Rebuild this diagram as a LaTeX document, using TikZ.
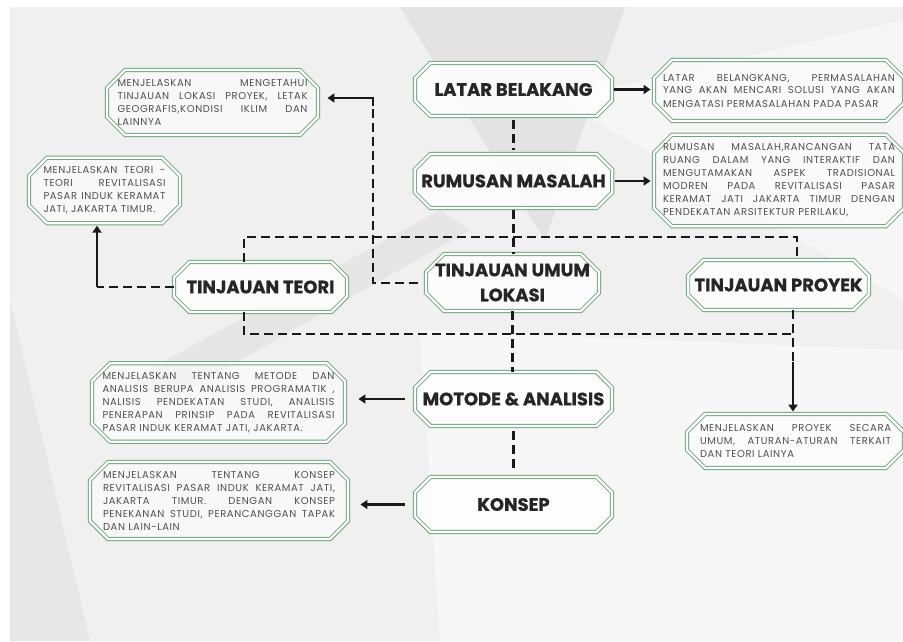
\documentclass[tikz,border=0pt]{standalone}
\usepackage{fontspec}
\setmainfont{Poppins}
\newfontfamily\infofam{Poppins}[LetterSpace=6]
\newfontfamily\titlefam{Poppins}[BoldFeatures={FakeBold=0.8}]
\usetikzlibrary{shapes.misc,arrows.meta,calc}
\definecolor{grn}{HTML}{6FA47C}
\definecolor{ttl}{HTML}{262626}
\definecolor{txt}{HTML}{505050}
\definecolor{bgc}{HTML}{F0F0F0}
\newcommand\infofont{\infofam\fontsize{10}{13}\selectfont\hyphenpenalty=10000 \exhyphenpenalty=10000 \tolerance=10000 \emergencystretch=20pt\relax}
\begin{document}
\begin{tikzpicture}[x=1pt,y=-1pt,
  octo/.style={chamfered rectangle, chamfered rectangle xsep=9pt, chamfered rectangle ysep=9pt,
    draw=grn, line width=0.9pt, double=white, double distance=2.4pt,
    fill=white, fill opacity=0.85, text opacity=1, inner sep=0pt},
  mainbox/.style={octo, font=\titlefam\fontsize{18}{25}\selectfont\bfseries, text=ttl, align=center},
  infobox/.style={octo, fill opacity=0.55, font=\infofont, text=txt, align=justify},
  conn/.style={line width=2.6pt, draw=black!90},
  dashline/.style={conn, dash pattern=on 9pt off 5pt},
  arr/.style={conn, -{Triangle[length=7pt,width=9pt]}},
]
\useasboundingbox (0,0) rectangle (903,641);
% background
\fill[white] (0,0) rectangle (903,641);
\fill[bgc] (10,7) rectangle (903,641);
\fill[gray!45, opacity=.3] (400,7) -- (625,7) -- (545,240) -- cycle;
\fill[white, opacity=.45] (560,100) -- (903,20) -- (903,300) -- cycle;
\fill[gray!35, opacity=.3] (130,380) -- (440,210) -- (470,230) -- (170,400) -- cycle;
\fill[gray!30, opacity=.35] (10,300) -- (90,641) -- (10,641) -- cycle;
\fill[white, opacity=.5] (420,330) -- (903,350) -- (903,641) -- (440,641) -- cycle;

% main boxes
\node[mainbox, minimum width=197, minimum height=53] (lb) at (513.5,89.5) {LATAR BELAKANG};
\node[mainbox, minimum width=197, minimum height=54] (rm) at (513.5,181) {RUMUSAN MASALAH};
\node[mainbox, minimum width=173, minimum height=50] (tt) at (260.5,287) {TINJAUAN TEORI};
\node[mainbox, minimum width=173, minimum height=57] (tu) at (512.5,282.5) {TINJAUAN UMUM\\LOKASI};
\node[mainbox, minimum width=179, minimum height=50] (tp) at (778.5,285) {TINJAUAN PROYEK};
\node[mainbox, minimum width=197, minimum height=54] (ma) at (513.5,399) {MOTODE \& ANALISIS};
\node[mainbox, minimum width=197, minimum height=55] (ko) at (513.5,504.5) {KONSEP};

% info boxes
\node[infobox, text width=190, minimum width=211, minimum height=65] (tlok) at (212.5,102.5)
 {MENJELASKAN MENGETAHUI\linebreak TINJAUAN LOKASI PROYEK, LETAK\linebreak GEOGRAFIS,KONDISI IKLIM DAN\linebreak LAINNYA};
\node[infobox, text width=232, minimum width=250, minimum height=61] (tlb) at (779,90.5)
 {LATAR BELANGKANG, PERMASALAHAN\linebreak YANG AKAN MENCARI SOLUSI YANG AKAN\linebreak MENGATASI PERMASALAHAN PADA PASAR};
\node[infobox, text width=232, minimum width=250, minimum height=91] (trm) at (779,180.5)
 {RUMUSAN MASALAH,RANCANGAN TATA\linebreak RUANG DALAM YANG INTERAKTIF DAN\linebreak MENGUTAMAKAN ASPEK TRADISIONAL\linebreak MODREN PADA REVITALISASI PASAR\linebreak KERAMAT JATI JAKARTA TIMUR DENGAN\linebreak PENDEKATAN ARSITEKTUR PERILAKU,};
\node[infobox, text width=122, minimum width=151, minimum height=63] (tteori) at (104.5,190.5)
 {MENJELASKAN TEORI -\linebreak TEORI REVITALISASI\linebreak PASAR INDUK KERAMAT\linebreak JATI, JAKARTA TIMUR.};
\node[infobox, text width=232, minimum width=253, minimum height=75] (tma) at (218.5,402.5)
 {MENJELASKAN TENTANG METODE DAN\linebreak ANALISIS BERUPA ANALISIS PROGRAMATIK ,\linebreak NALISIS PENDEKATAN STUDI, ANALISIS\linebreak PENERAPAN PRINSIP PADA REVITALISASI\linebreak PASAR INDUK KERAMAT JATI, JAKARTA.};
\node[infobox, text width=191, minimum width=217, minimum height=54] (ttp) at (795.5,441)
 {MENJELASKAN PROYEK SECARA\linebreak UMUM, ATURAN-ATURAN TERKAIT\linebreak DAN TEORI LAINYA};
\node[infobox, text width=232, minimum width=258, minimum height=77] (tko) at (219,500.5)
 {MENJELASKAN TENTANG KONSEP\linebreak REVITALISASI PASAR INDUK KERAMAT JATI,\linebreak JAKARTA TIMUR. DENGAN KONSEP\linebreak PENEKANAN STUDI, PERANCANGGAN TAPAK\linebreak DAN LAIN-LAIN};

% corner coordinates
\coordinate (hl) at (244,237);
\coordinate (hr) at (797,237);
\coordinate (ll) at (244,334);
\coordinate (lr) at (793,334);
\coordinate (lrb) at (793,362);
\coordinate (c1) at (373,283);
\coordinate (c2) at (373,98);
\coordinate (c2b) at (373,106);
\coordinate (c3) at (97,287);

% connectors
\draw[arr, shorten <=2pt, shorten >=3pt] (lb.east) -- (lb.east -| tlb.west);
\draw[arr, shorten <=2pt, shorten >=3pt] (rm.east) -- (rm.east -| trm.west);
\draw[dashline, shorten <=4pt, shorten >=4pt] (lb.south) -- (rm.north);
\draw[dashline, shorten <=2pt] (rm.south) -- (rm.south |- tu.north);
\draw[dashline] (tt.north -| hl) -- (hl) -- (hr) -- (tp.north -| hr);
\draw[dashline] (tt.south -| ll) -- (ll) -- (lr);
\draw[dashline] (tu.south) -- (tu.south |- ma.north);
\draw[dashline] (tp.south -| lr) -- (lrb);
\draw[arr, shorten >=2pt] (lrb) -- (lrb |- ttp.north);
\draw[dashline, shorten <=8pt] (tu.west |- c1) -- (c1) -- (c2b);
\draw[arr, shorten >=9pt] (c2b) -- (c2) -- (c2 -| tlok.east);
\draw[dashline] (tt.west |- c3) -- (c3);
\draw[arr, shorten >=2pt] (c3) -- (c3 |- tteori.south);
\draw[arr, shorten <=10pt, shorten >=13pt] (ma.west) -- (ma.west -| tma.east);
\draw[arr, shorten <=10pt, shorten >=12pt] (ko.west) -- (ko.west -| tko.east);
\draw[dashline, shorten <=5pt, shorten >=5pt] (ma.south) -- (ko.north);
\end{tikzpicture}
\end{document}
